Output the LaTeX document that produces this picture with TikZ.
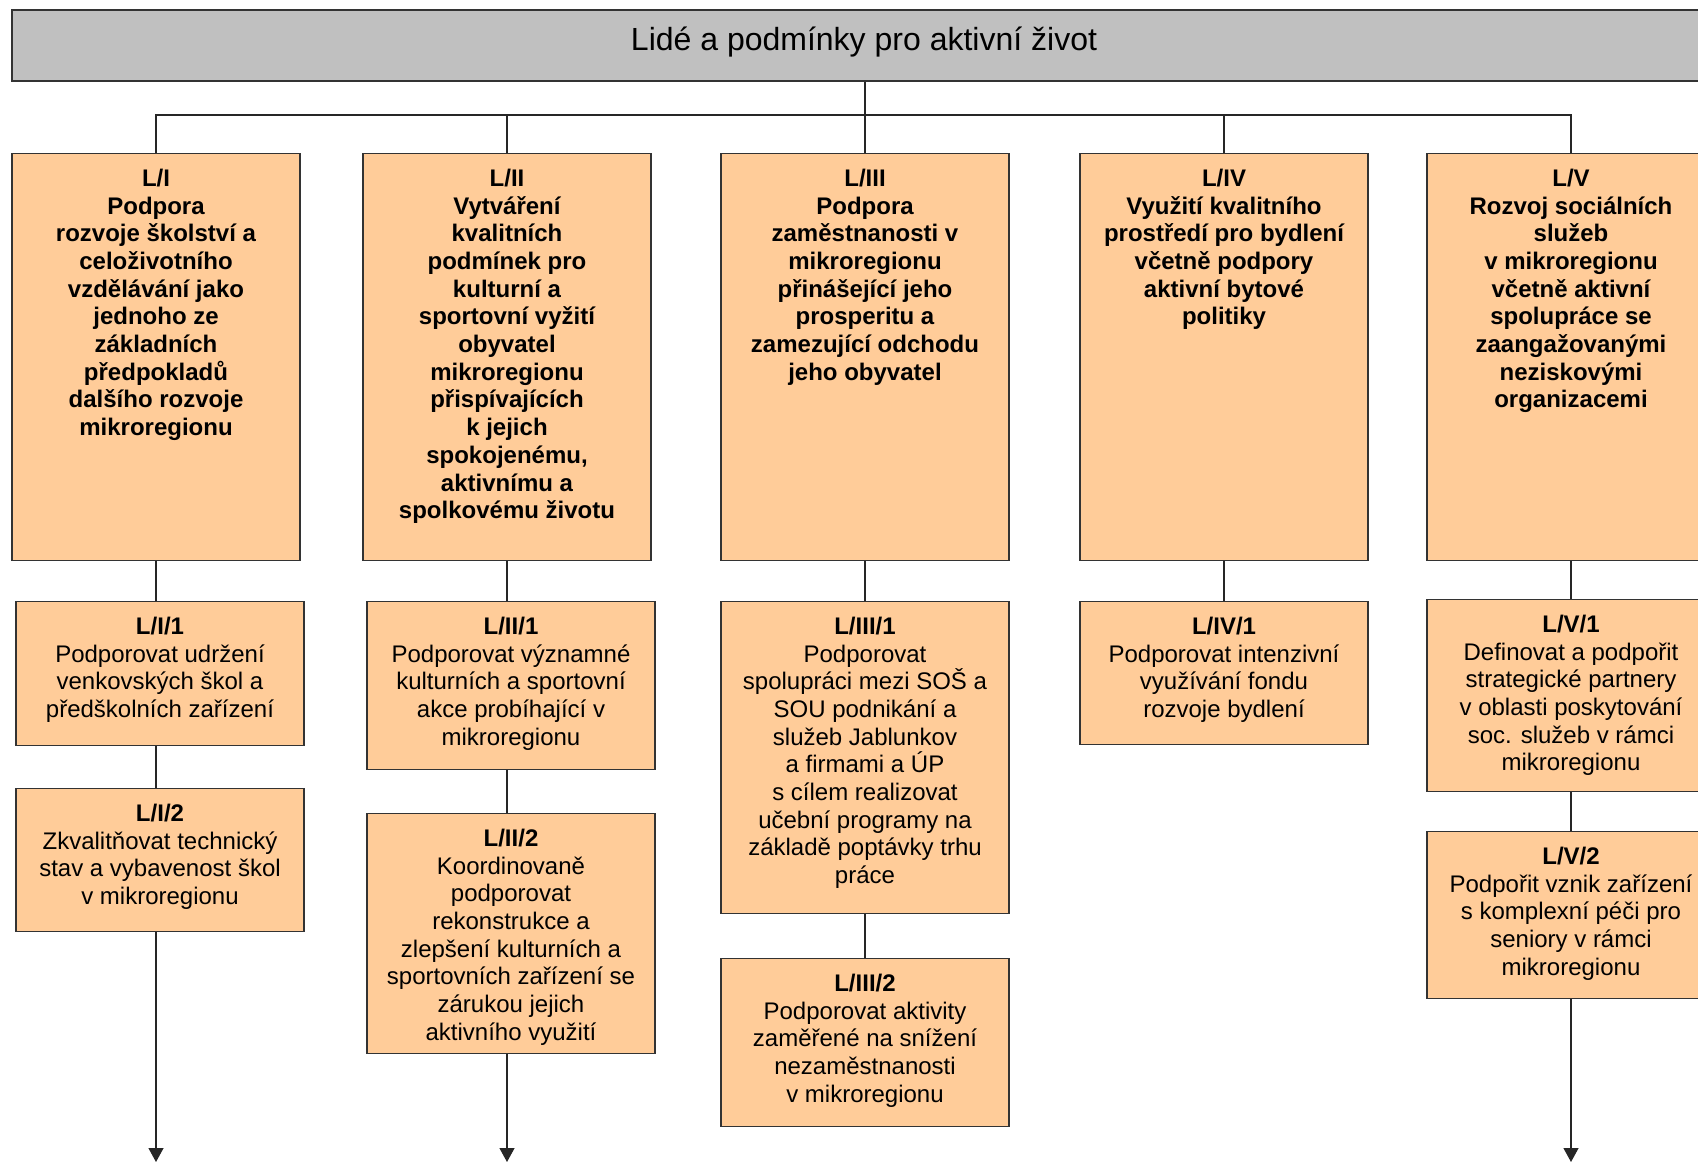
\documentclass[tikz,border=0pt]{standalone}
\usepackage{fontspec}
\setmainfont{Liberation Sans}
\usetikzlibrary{arrows.meta}
\definecolor{cilfill}{HTML}{FFCC99}
\definecolor{hlavfill}{HTML}{C0C0C0}
\newcommand{\cil}[2]{\parbox[c][#1][t]{142pt}{\centering\rule{0pt}{16.3pt}#2}}

\begin{document}
\begin{tikzpicture}[x=0.5pt, y=-0.5pt,
	hlav/.style={draw=black!80, line width=0.7pt, fill=hlavfill, minimum width=852pt, inner ysep=0pt, text height=20.2pt, text depth=15.3pt, font=\fontsize{16}{18}\selectfont},
	opatreni/.style={draw=black!80, line width=0.7pt, fill=cilfill, inner sep=0pt, minimum width=144pt, anchor=north, font=\fontsize{12}{13.85}\selectfont\bfseries},
	podcil/.style={opatreni, font=\fontsize{12}{13.85}\selectfont},
	spoj/.style={line width=0.6pt, draw=black!85},
	sipka/.style={spoj, -{Triangle[width=7.5pt,length=7pt]}}]
		\clip (0,0) rectangle (1698,1163);
		% header
		\node[hlav] (top) at (864,45.5) {Lidé a podmínky pro aktivní život};
		% main goals
		\node[opatreni] (l1) at (156,153) {\cil{203.5pt}{L/I\\Podpora\\rozvoje školství a\\celoživotního\\vzdělávání jako\\jednoho ze\\základních\\předpokladů\\dalšího rozvoje\\mikroregionu}};
		\node[opatreni] (l2) at (507,153) {\cil{203.5pt}{L/II\\Vytváření\\kvalitních\\podmínek pro\\kulturní a\\sportovní vyžití\\obyvatel\\mikroregionu\\přispívajících\\k jejich\\spokojenému,\\aktivnímu a\\spolkovému životu}};
		\node[opatreni] (l3) at (865,153) {\cil{203.5pt}{L/III\\Podpora\\zaměstnanosti v\\mikroregionu\\přinášející jeho\\prosperitu a\\zamezující odchodu\\jeho obyvatel}};
		\node[opatreni] (l4) at (1224,153) {\cil{203.5pt}{L/IV\\Využití kvalitního\\prostředí pro bydlení\\včetně podpory\\aktivní bytové\\politiky}};
		\node[opatreni] (l5) at (1571,153) {\cil{203.5pt}{L/V\\Rozvoj sociálních\\služeb\\v mikroregionu\\včetně aktivní\\spolupráce se\\zaangažovanými\\neziskovými\\organizacemi}};
		% sub goals
		\node[podcil] (l11) at (160,601) {\cil{72pt}{\textbf{L/I/1}\\Podporovat udržení\\venkovských škol a\\předškolních zařízení}};
		\node[podcil] (l12) at (160,788) {\cil{71.5pt}{\textbf{L/I/2}\\Zkvalitňovat technický\\stav a vybavenost škol\\v mikroregionu}};
		\node[podcil] (l21) at (511,601) {\cil{84pt}{\textbf{L/II/1}\\Podporovat významné\\kulturních a sportovní\\akce probíhající v\\mikroregionu}};
		\node[podcil] (l22) at (511,813) {\cil{120pt}{\textbf{L/II/2}\\Koordinovaně\\podporovat\\rekonstrukce a\\zlepšení kulturních a\\sportovních zařízení se\\zárukou jejich\\aktivního využití}};
		\node[podcil] (l31) at (865,601) {\cil{156pt}{\textbf{L/III/1}\\Podporovat\\spolupráci mezi SOŠ a\\SOU podnikání a\\služeb Jablunkov\\a firmami a ÚP\\s cílem realizovat\\učební programy na\\základě poptávky trhu\\práce}};
		\node[podcil] (l32) at (865,958) {\cil{84pt}{\textbf{L/III/2}\\Podporovat aktivity\\zaměřené na snížení\\nezaměstnanosti\\v mikroregionu}};
		\node[podcil] (l41) at (1224,601) {\cil{71.5pt}{\textbf{L/IV/1}\\Podporovat intenzivní\\využívání fondu\\rozvoje bydlení}};
		\node[podcil] (l51) at (1571,599) {\cil{96pt}{\textbf{L/V/1}\\Definovat a podpořit\\strategické partnery\\v oblasti poskytování\\soc. služeb v rámci\\mikroregionu}};
		\node[podcil] (l52) at (1571,831) {\cil{83.5pt}{\textbf{L/V/2}\\Podpořit vznik zařízení\\s komplexní péči pro\\seniory v rámci\\mikroregionu}};
		% bus
		\coordinate (bus) at (865,115);
		\draw[spoj] (top.south -| bus) -- (bus);
		\draw[spoj] (l1.north) |- (bus) -| (l5.north);
		\draw[spoj] (l2.north) -- (l2.north |- bus);
		\draw[spoj] (l3.north) -- (bus);
		\draw[spoj] (l4.north) -- (l4.north |- bus);
		% links
		\draw[spoj] (l1.south) -- (l1.south |- l11.north);
		\draw[spoj] (l1.south |- l11.south) -- (l1.south |- l12.north);
		\draw[spoj] (l2.south) -- (l2.south |- l21.north);
		\draw[spoj] (l2.south |- l21.south) -- (l2.south |- l22.north);
		\draw[spoj] (l3.south) -- (l31.north);
		\draw[spoj] (l31.south) -- (l32.north);
		\draw[spoj] (l4.south) -- (l41.north);
		\draw[spoj] (l5.south) -- (l51.north);
		\draw[spoj] (l51.south) -- (l52.north);
		% arrows
		\coordinate (k1) at (156,1162);
		\coordinate (k2) at (507,1162);
		\coordinate (k5) at (1571,1162);
		\draw[sipka] (k1 |- l12.south) -- (k1);
		\draw[sipka] (k2 |- l22.south) -- (k2);
		\draw[sipka] (l52.south) -- (k5);
	\end{tikzpicture}
\end{document}
